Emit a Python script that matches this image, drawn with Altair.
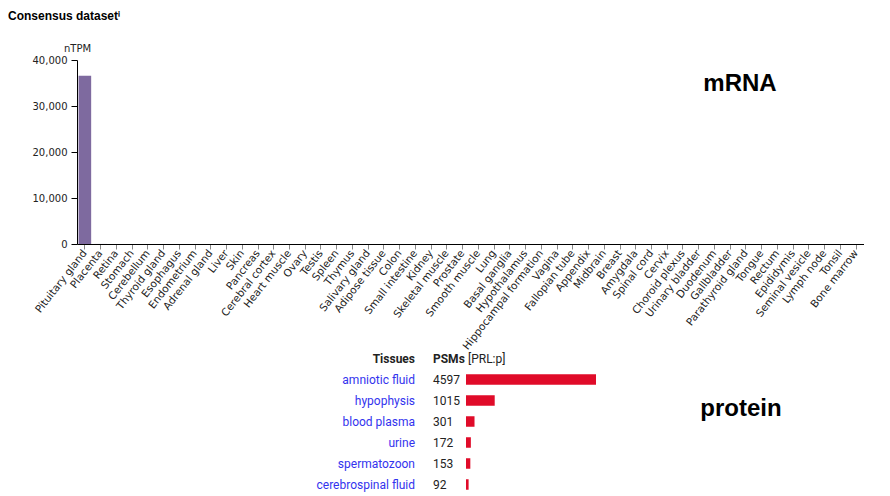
import altair as alt
import pandas as pd

tissues = ["Pituitary gland", "Placenta", "Retina", "Stomach", "Cerebellum", "Thyroid gland",
           "Esophagus", "Endometrium", "Adrenal gland", "Liver", "Skin", "Pancreas",
           "Cerebral cortex", "Heart muscle", "Ovary", "Testis", "Spleen", "Thymus",
           "Salivary gland", "Adipose tissue", "Colon", "Small intestine", "Kidney",
           "Skeletal muscle", "Prostate", "Smooth muscle", "Lung", "Basal ganglia",
           "Hypothalamus", "Hippocampal formation", "Vagina", "Fallopian tube", "Appendix",
           "Midbrain", "Breast", "Amygdala", "Spinal cord", "Cervix", "Choroid plexus",
           "Urinary bladder", "Duodenum", "Gallbladder", "Parathyroid gland", "Tongue",
           "Rectum", "Epididymis", "Seminal vesicle", "Lymph node", "Tonsil", "Bone marrow"]
ntpm = [36600, 12, 6, 4, 3.5, 3, 2.5, 2.2, 2, 1.8, 1.6, 1.5, 1.4, 1.3, 1.2, 1.1, 1.0, 0.9,
        0.9, 0.8, 0.8, 0.7, 0.7, 0.6, 0.6, 0.5, 0.5, 0.5, 0.4, 0.4, 0.4, 0.3, 0.3, 0.3,
        0.3, 0.2, 0.2, 0.2, 0.2, 0.2, 0.1, 0.1, 0.1, 0.1, 0.1, 0.1, 0.0, 0.0, 0.0, 0.0]
y_ticks = [0, 10000, 20000, 30000, 40000]

prot_tissues = ["amniotic fluid", "hypophysis", "blood plasma", "urine", "spermatozoon",
                "cerebrospinal fluid"]
psms = [4597, 1015, 301, 172, 153, 92]

mrna_df = pd.DataFrame({"tissue": tissues, "ntpm": ntpm})
psm_df = pd.DataFrame({"tissue": prot_tissues, "psm": psms})

AX_FONT = "DejaVu Sans"
TB_FONT = "Roboto"

top_bars = alt.Chart(mrna_df).mark_bar(color="#7e6a9f").encode(
    x=alt.X("tissue:N", sort=tissues,
            scale=alt.Scale(paddingInner=0.2, paddingOuter=0.1),
            axis=alt.Axis(title=None, labelAngle=-52, labelFontSize=10.5, labelFont=AX_FONT,
                          labelColor="#222", tickColor="#888", domainColor="#000",
                          tickSize=5, labelPadding=2)),
    y=alt.Y("ntpm:Q", scale=alt.Scale(domain=[0, 40000]),
            axis=alt.Axis(title="nTPM", titleAngle=0, titleX=0, titleY=-9,
                          titleAlign="center", titleBaseline="alphabetic",
                          titleFontWeight="normal", titleFont=AX_FONT, titleFontSize=10,
                          titleColor="#222",
                          values=y_ticks, format=",d", grid=False, labelFontSize=10,
                          labelFont=AX_FONT, labelColor="#222",
                          tickColor="#000", domainColor="#000", tickSize=6,
                          labelPadding=4)),
)

mrna_label = alt.Chart(pd.DataFrame({"t": ["mRNA"]})).mark_text(
    font="Liberation Sans", fontSize=24, fontWeight="bold", color="#000",
    align="center", baseline="middle"
).encode(x=alt.value(663), y=alt.value(24), text="t:N")

top = alt.layer(top_bars, mrna_label).properties(width=787, height=184)

ybase = alt.Y("tissue:N", sort=prot_tissues,
              scale=alt.Scale(paddingInner=0.5, paddingOuter=0.25), axis=None)
base = alt.Chart(psm_df).encode(y=ybase)

names = base.mark_text(align="right", baseline="middle", font=TB_FONT, fontSize=12,
                       color="#3333ee").encode(x=alt.value(338), text="tissue:N")
nums = base.mark_text(align="left", baseline="middle", font=TB_FONT, fontSize=12,
                      color="#222").encode(x=alt.value(356), text=alt.Text("psm:Q", format="d"))
bars = base.mark_bar(color="#e00b29").encode(
    x=alt.X("psm:Q", scale=alt.Scale(domain=[0, 4597], range=[389, 519]), axis=None))

hdr = pd.DataFrame({"a": ["Tissues"], "b": ["PSMs"], "c": ["[PRL:p]"]})
h1 = alt.Chart(hdr).mark_text(align="right", baseline="middle", font=TB_FONT, fontSize=12,
                              fontWeight="bold", color="#222").encode(
    x=alt.value(338), y=alt.value(-10.5), text="a:N")
h2 = alt.Chart(hdr).mark_text(align="left", baseline="middle", font=TB_FONT, fontSize=12,
                              fontWeight="bold", color="#222").encode(
    x=alt.value(356), y=alt.value(-10.5), text="b:N")
h3 = alt.Chart(hdr).mark_text(align="left", baseline="middle", font=TB_FONT, fontSize=12,
                              color="#222").encode(
    x=alt.value(391), y=alt.value(-10.5), text="c:N")

prot_label = alt.Chart(pd.DataFrame({"t": ["protein"]})).mark_text(
    font="Liberation Sans", fontSize=24, fontWeight="bold", color="#000",
    align="center", baseline="middle"
).encode(x=alt.value(664), y=alt.value(39.5), text="t:N")

bottom = alt.layer(bars, names, nums, h1, h2, h3, prot_label).properties(width=787, height=126)

chart = alt.vconcat(
    top, bottom, spacing=125, bounds="flush",
    title=alt.Title("Consensus datasetⁱ", anchor="start", font="Liberation Sans",
                    fontSize=12, fontWeight="bold", color="#000", dx=-24, offset=20),
).properties(padding={"left": 0, "top": 2, "right": 0, "bottom": 0}).configure_view(stroke=None)

chart.save("out.html", embed_options={"renderer": "svg", "actions": False})
